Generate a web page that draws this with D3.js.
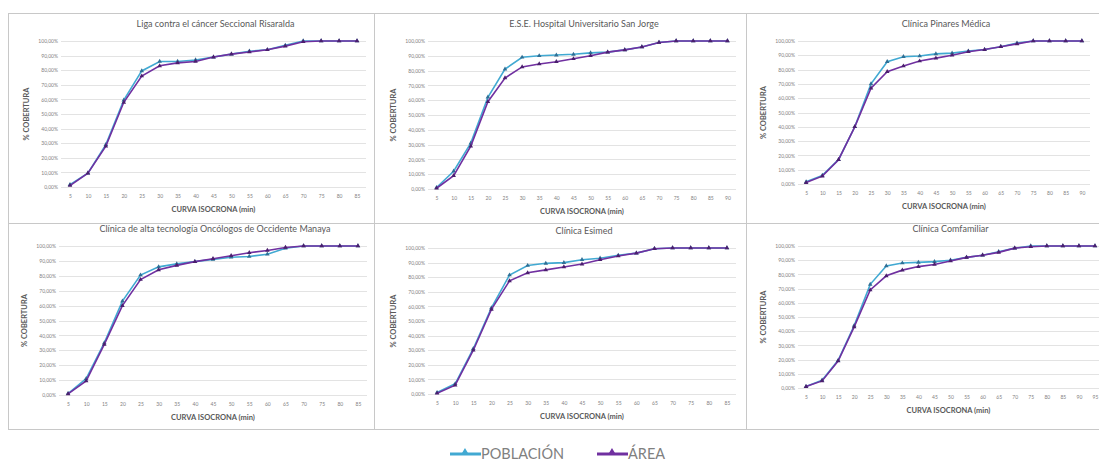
<!DOCTYPE html>
<html>
<head>
<meta charset="utf-8">
<script src="https://cdn.jsdelivr.net/npm/d3@7"></script>
<style>
	body { margin: 0; background: #fff; }
	text { font-family: Lato, "Open Sans", sans-serif; fill: #595959; }
</style>
</head>
<body>
<div id="chart"></div>
<script>
// Curvas de cobertura por isocrona - 6 paneles (poblacion vs area)

var width = 1099,
	height = 462;

// minutos de la curva isocrona (eje x)
var minutos = [5, 10, 15, 20, 25, 30, 35, 40, 45, 50, 55, 60, 65, 70, 75, 80, 85, 90, 95];

// ticks del eje y (% cobertura)
var yTicks = [0, 10, 20, 30, 40, 50, 60, 70, 80, 90, 100];

var titulos = ['Liga contra el cáncer Seccional Risaralda',
	'E.S.E. Hospital Universitario San Jorge',
	'Clínica Pinares Médica',
	'Clínica de alta tecnología Oncólogos de Occidente Manaya',
	'Clínica Esimed',
	'Clínica Comfamiliar'];

// % cobertura poblacion / area
var pobLiga     = [1.6, 9.5, 29, 59.5, 79.5, 86, 86, 87, 89, 91, 93, 94, 97, 100, 100, 100, 100];
var areaLiga    = [1, 9.5, 28, 58, 76, 83, 85, 86, 89, 91, 92.5, 94, 96.5, 99.5, 100, 100, 100];
var pobSanJorge  = [1, 12, 31, 62, 81, 89, 90, 90.5, 91, 92, 92.5, 94, 96, 99, 100, 100, 100, 100];
var areaSanJorge = [0.5, 9, 29, 59, 75, 82.5, 84.5, 86, 88, 90, 92.5, 94, 96, 99, 100, 100, 100, 100];
var pobPinares   = [1.5, 6, 17, 40, 70, 85.5, 89, 89.5, 91, 91.5, 93, 94, 96, 98.5, 100, 100, 100, 100];
var areaPinares  = [1, 5.5, 17, 40, 67, 78.5, 82.5, 86, 88, 90, 92.5, 94, 96, 98, 100, 100, 100, 100];
var pobOncologos  = [1, 11, 35, 63, 80.5, 86, 88, 89.5, 91, 92.5, 93, 94.5, 98.5, 100, 100, 100, 100];
var areaOncologos = [0.7, 9.5, 34, 60, 77.5, 84, 87, 89.5, 91.5, 93.5, 95.5, 97, 99, 100, 100, 100, 100];
var pobEsimed   = [1, 7, 31, 59, 81.5, 88, 89.5, 90, 92, 93, 95, 96.5, 99.5, 100, 100, 100, 100];
var areaEsimed  = [0.5, 6, 30, 58, 77.5, 83, 85, 87, 89, 92, 94.5, 96.5, 99.5, 100, 100, 100, 100];
var pobComfamiliar  = [1, 5.5, 19.5, 44, 73, 86, 88, 88.5, 89, 90, 92, 93.5, 96, 98.5, 100, 100, 100, 100, 100];
var areaComfamiliar = [1, 5, 19, 43, 69, 79, 83, 85.5, 87, 89.5, 92, 93.5, 95.5, 98.5, 99.5, 100, 100, 100, 100];

var serieNombres = ['POBLACIÓN', 'ÁREA'];
var serieColores = ['#41a9d2', '#7030a0'];

// Posicion de cada area de trazado (x0..x1 banda de categorias, yTop = 100%, yBot = 0%)
var layout = [
	{ x0: 61,  x1: 366,  yTop: 41,  yBot: 187 },
	{ x0: 428, x1: 736,  yTop: 41,  yBot: 189 },
	{ x0: 798, x1: 1090, yTop: 41,  yBot: 184 },
	{ x0: 59,  x1: 367,  yTop: 246, yBot: 395 },
	{ x0: 428, x1: 736,  yTop: 248, yBot: 394 },
	{ x0: 798, x1: 1103, yTop: 246, yBot: 388 }
];

var series = [
	[pobLiga, areaLiga],
	[pobSanJorge, areaSanJorge],
	[pobPinares, areaPinares],
	[pobOncologos, areaOncologos],
	[pobEsimed, areaEsimed],
	[pobComfamiliar, areaComfamiliar]
];

function fmtPct(v) {
	return v.toFixed(2).replace('.', ',') + '%';
}

var svg = d3.select('#chart').append('svg')
	.attr('width', width)
	.attr('height', height);

// marco de la tabla de paneles
var frame = svg.append('g').attr('class', 'frame')
	.style('stroke', '#c8c8c8').style('stroke-width', 1).style('fill', 'none');
frame.append('rect').attr('x', 8.5).attr('y', 13.5).attr('width', 1095).attr('height', 416);
frame.append('line').attr('x1', 374.5).attr('x2', 374.5).attr('y1', 13).attr('y2', 430);
frame.append('line').attr('x1', 746.5).attr('x2', 746.5).attr('y1', 13).attr('y2', 430);
frame.append('line').attr('x1', 8).attr('x2', 1099).attr('y1', 223.5).attr('y2', 223.5);

function drawPanel(i) {
	var L = layout[i];
	var pob = series[i][0], area = series[i][1];
	var cats = minutos.slice(0, pob.length);

	var x = d3.scalePoint().domain(cats).range([L.x0, L.x1]).padding(0.5);
	var y = d3.scaleLinear().domain([0, 100]).range([L.yBot, L.yTop]);

	var g = svg.append('g').attr('class', 'panel');

	// lineas de cuadricula
	g.selectAll('line.grid')
		.data(yTicks)
		.enter()
			.append('line')
			.attr('class', 'grid')
			.attr('x1', L.x0).attr('x2', Math.min(L.x1, width))
			.attr('y1', function(d) { return Math.round(y(d)) + 0.5; })
			.attr('y2', function(d) { return Math.round(y(d)) + 0.5; })
			.style('stroke', '#dcdcdc')
			.style('stroke-width', '0.8px');

	// eje y
	var yAxis = d3.axisLeft(y).tickValues(yTicks).tickFormat(fmtPct).tickSize(0).tickPadding(3);
	g.append('g')
		.attr('transform', 'translate(' + L.x0 + ',0)')
		.call(yAxis)
		.call(function(s) { s.select('.domain').remove(); })
		.selectAll('text')
			.style('font-size', '5px')
			.style('fill', '#7f7f7f');

	// eje x
	var xAxis = d3.axisBottom(x).tickSize(0).tickPadding(7);
	g.append('g')
		.attr('transform', 'translate(0,' + L.yBot + ')')
		.call(xAxis)
		.call(function(s) { s.select('.domain').remove(); })
		.selectAll('text')
			.style('font-size', '5px')
			.style('fill', '#7f7f7f');

	// titulos
	g.append('text')
		.attr('x', (L.x0 + Math.min(L.x1, 1099)) / 2 + 2)
		.attr('y', L.yTop - 14)
		.attr('text-anchor', 'middle')
		.style('font-size', '9px')
		.text(titulos[i]);

	g.append('text')
		.attr('x', (L.x0 + Math.min(L.x1, 1099)) / 2)
		.attr('y', L.yBot + 25)
		.attr('text-anchor', 'middle')
		.style('font-size', '7.5px')
		.style('font-weight', 'bold')
		.text('CURVA ISOCRONA (min)');

	g.append('text')
		.attr('transform', 'translate(' + (L.x0 - 32) + ',' + ((L.yTop + L.yBot) / 2) + ') rotate(-90)')
		.attr('text-anchor', 'middle')
		.style('font-size', '7.5px')
		.style('font-weight', 'bold')
		.text('% COBERTURA');

	var line = d3.line()
		.x(function(d, j) { return x(cats[j]); })
		.y(function(d) { return y(d); });

	[pob, area].forEach(function(vals, k) {
		g.append('path')
			.datum(vals)
			.attr('d', line)
			.style('fill', 'none')
			.style('stroke', serieColores[k])
			.style('stroke-width', '1.6px');
		g.selectAll('path.mk' + k)
			.data(vals)
			.enter()
				.append('path')
				.attr('class', 'mk' + k)
				.attr('d', d3.symbol().type(d3.symbolTriangle).size(9))
				.attr('transform', function(d, j) { return 'translate(' + x(cats[j]) + ',' + y(d) + ')'; })
				.style('fill', k === 0 ? '#2f6f95' : '#4b1f6e');
	});
} // drawPanel()

for (var p = 0; p < layout.length; p++) drawPanel(p);

// leyenda
var legX = [450, 597];
var leg = svg.append('g').attr('class', 'legend');
serieNombres.forEach(function(name, k) {
	leg.append('line')
		.attr('x1', legX[k]).attr('x2', legX[k] + 31)
		.attr('y1', 454).attr('y2', 454)
		.style('stroke', serieColores[k])
		.style('stroke-width', '3px');
	leg.append('path')
		.attr('d', d3.symbol().type(d3.symbolTriangle).size(22))
		.attr('transform', 'translate(' + (legX[k] + 15) + ',452)')
		.style('fill', serieColores[k]);
	leg.append('text')
		.attr('x', legX[k] + 31)
		.attr('y', 459)
		.style('font-size', '14.5px')
		.style('fill', '#808080')
		.text(name);
});
</script>
</body>
</html>
